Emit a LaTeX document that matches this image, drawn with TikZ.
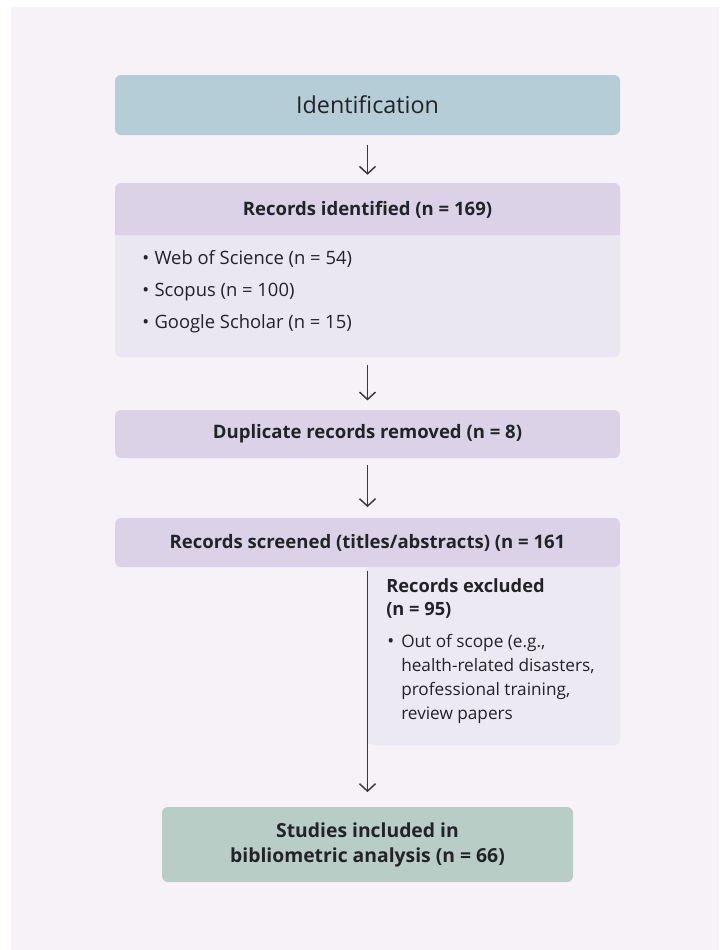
\documentclass[tikz,border=0pt]{standalone}
\usepackage{fontspec}
\setmainfont{Open Sans}
\usetikzlibrary{arrows.meta}
\definecolor{bgcol}{HTML}{F7F2F8}
\definecolor{identcol}{HTML}{B5CDD6}
\definecolor{headcol}{HTML}{DBD2E7}
\definecolor{bodycol}{HTML}{EBE7F1}
\definecolor{exclcol}{HTML}{EDE9F2}
\definecolor{finalcol}{HTML}{B9CDC7}
\definecolor{inkcol}{HTML}{222227}
\tikzset{
    flowbox/.style={rounded corners=4.5pt, minimum width=378.75pt, inner sep=0pt, text=inkcol, font=\bfseries\fontsize{13.9}{16}\selectfont},
    itemtext/.style={anchor=west, inner sep=0pt, text=inkcol, font=\fontsize{13.8}{16}\selectfont},
    flowarrow/.style={-{Straight Barb[length=5.5pt, width=12pt]}, line width=1.1pt, draw=inkcol!90}
}
\begin{document}
\begin{tikzpicture}[x=0.75pt, y=-0.75pt]
        \useasboundingbox (0, 0) rectangle (719, 950);
        \fill[white] (0, 0) rectangle (719, 950);
        \fill[bgcol] (11, 7) rectangle (719, 950);

        \node[flowbox, fill=identcol, minimum height=45pt, font=\fontsize{17.5}{20}\selectfont] (ident) at (367.5, 105) {Identification};

        \node[flowbox, fill=bodycol, minimum height=130.5pt] (recs) at (367.5, 270) {};
        \node[flowbox, fill=headcol, minimum height=39pt] (recshead) at (367.5, 209) {};
        \fill[headcol] (115, 225) rectangle (620, 235);
        \node[inner sep=0pt, text=inkcol, font=\bfseries\fontsize{13.9}{16}\selectfont] (recstitle) at (367.5, 210) {Records identified (n = 169)};
        \node[itemtext] (wos) at (142, 259) {\textbullet\hspace{4pt}Web of Science (n = 54)};
        \node[itemtext] (scopus) at (142, 292) {\textbullet\hspace{4pt}Scopus (n = 100)};
        \node[itemtext] (scholar) at (142, 324) {\textbullet\hspace{4pt}Google Scholar (n = 15)};

        \node[flowbox, fill=headcol, minimum height=36pt] (dupl) at (367.5, 434) {Duplicate records removed (n = 8)};

        \node[flowbox, fill=exclcol, minimum width=189.75pt, minimum height=142.5pt] (excl) at (493.5, 650) {};
        \node[flowbox, fill=headcol, minimum height=36.75pt] (screen) at (367.5, 542.5) {Records screened (titles/abstracts) (n = 161};
        \node[anchor=north west, inner sep=0pt, align=left, text=inkcol, font=\bfseries\fontsize{13.7}{17.5}\selectfont] (excltitle) at (386, 578) {Records excluded\\(n = 95)};
        \node[itemtext] (bullet) at (387, 643) {\textbullet};
        \node[anchor=north west, inner sep=0pt, align=left, text=inkcol, font=\fontsize{12.9}{18}\selectfont] (scope) at (401, 634) {Out of scope (e.g.,\\health-related disasters,\\professional training,\\review papers};

        \node[flowbox, fill=finalcol, minimum width=308.25pt, minimum height=56.25pt, align=center, font=\bfseries\fontsize{14.5}{18.75}\selectfont] (final) at (367.5, 844.5) {Studies included in\\bibliometric analysis (n = 66)};

        \draw[flowarrow, shorten <=7pt, shorten >=6pt] (ident) -- (recs);
        \draw[flowarrow, shorten <=6pt, shorten >=7pt] (recs) -- (dupl);
        \draw[flowarrow, shorten <=5pt, shorten >=8pt] (dupl) -- (screen);
        \draw[flowarrow, shorten <=3pt, shorten >=11pt] (screen) -- (final);
\end{tikzpicture}
\end{document}
